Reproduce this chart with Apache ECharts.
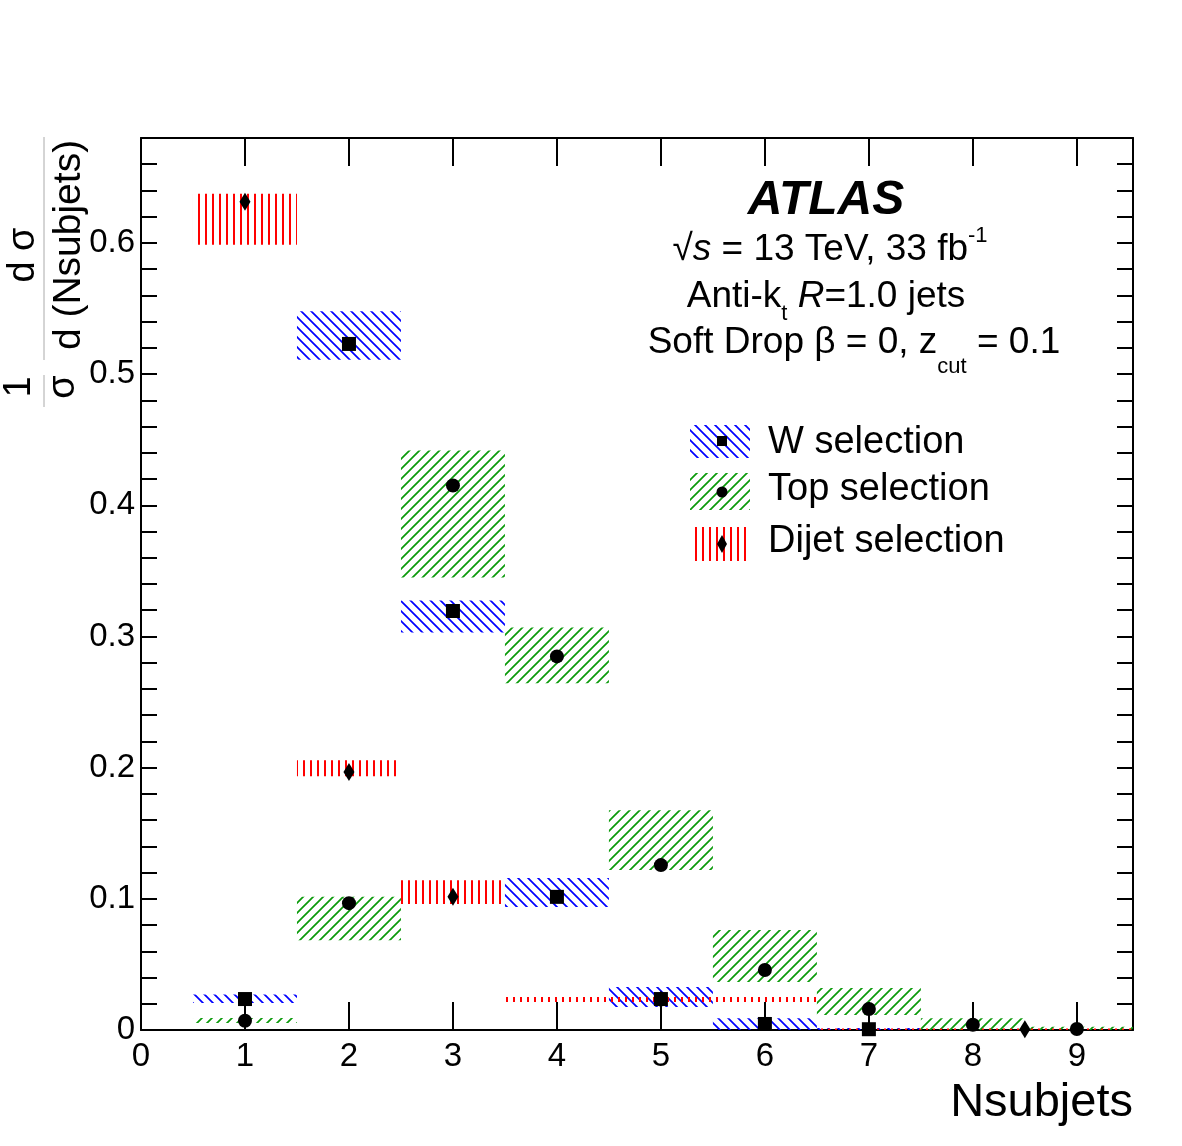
<!DOCTYPE html>
<html>
<head>
<meta charset="utf-8">
<script src="https://cdn.jsdelivr.net/npm/echarts@6/dist/echarts.min.js"></script>
<style>
  * { margin: 0; padding: 0; }
  body { background: #fff; }
</style>
</head>
<body>
<div id="nsub" style="width: 1182px;height: 1146px;"></div>
<script>
// W selection
var wCenter = [1, 2, 3, 4, 5, 6, 7];
var wValue  = [0.0236, 0.523, 0.3194, 0.1015, 0.0236, 0.0046, 0.0006];
var wLow    = [0.0205, 0.511, 0.3031, 0.0937, 0.0175, 0.0, 0.0];
var wHigh   = [0.027, 0.548, 0.3275, 0.1158, 0.0327, 0.009, 0.0015];
var wBinLo  = [0.5, 1.5, 2.5, 3.5, 4.5, 5.5, 6.5];
var wBinHi  = [1.5, 2.5, 3.5, 4.5, 5.5, 6.5, 7.5];

// Top selection
var topCenter = [1, 2, 3, 4, 5, 6, 7, 8, 9];
var topValue  = [0.0071, 0.0967, 0.4151, 0.2848, 0.1257, 0.0457, 0.016, 0.004, 0.0008];
var topLow    = [0.0053, 0.0685, 0.345, 0.2643, 0.1219, 0.0366, 0.0114, 0.0, 0.0];
var topHigh   = [0.0091, 0.1015, 0.4417, 0.3069, 0.1676, 0.0762, 0.032, 0.009, 0.0025];
var topBinLo  = [0.5, 1.5, 2.5, 3.5, 4.5, 5.5, 6.5, 7.5, 8.5];
var topBinHi  = [1.5, 2.5, 3.5, 4.5, 5.5, 6.5, 7.5, 8.5, 10.5];

// Dijet selection
var djCenter = [1, 2, 3, 5, 8.5];
var djValue  = [0.6314, 0.1967, 0.1015, 0.0232, 0.0005];
var djLow    = [0.5986, 0.1934, 0.096, 0.0213, 0.0];
var djHigh   = [0.6375, 0.2056, 0.1142, 0.0251, 0.0012];
var djBinLo  = [0.5, 1.5, 2.5, 3.5, 6.5];
var djBinHi  = [1.5, 2.5, 3.5, 6.5, 10.5];

var xTickLabels = ['0', '1', '2', '3', '4', '5', '6', '7', '8', '9'];
var yTickLabels = ['0', '0.1', '0.2', '0.3', '0.4', '0.5', '0.6'];

var FONT = '"Liberation Sans", Arial, Helvetica, sans-serif';
var BLUE = '#0000ff', GREEN = '#0a9a0a', RED = '#ff0000';

// ROOT like fill patterns
function hatch(color, kind) {
  var c = document.createElement('canvas');
  var s = kind === 'vert' ? 7 : 10;
  c.width = s; c.height = s;
  var g = c.getContext('2d');
  g.strokeStyle = color;
  g.lineWidth = kind === 'vert' ? 2 : 1.7;
  g.beginPath();
  if (kind === 'vert') {
    g.moveTo(3, 0); g.lineTo(3, s);
  } else if (kind === 'back') {   // "\\\"
    g.moveTo(-2, -2); g.lineTo(s + 2, s + 2);
    g.moveTo(-2, s - 2); g.lineTo(2, s + 2);
    g.moveTo(s - 2, -2); g.lineTo(s + 2, 2);
  } else {                        // "///"
    g.moveTo(-2, s + 2); g.lineTo(s + 2, -2);
    g.moveTo(-2, 2); g.lineTo(2, -2);
    g.moveTo(s - 2, s + 2); g.lineTo(s + 2, s - 2);
  }
  g.stroke();
  return {image: c, repeat: 'repeat'};
}
var patW = hatch(BLUE, 'back');
var patTop = hatch(GREEN, 'fwd');
var patDj = hatch(RED, 'vert');

function bandData(lo, hi, ylo, yhi) {
  return lo.map(function (v, i) { return [v, hi[i], ylo[i], yhi[i]]; });
}
function pointData(x, y) {
  return x.map(function (v, i) { return [v, y[i]]; });
}
function bandSeries(name, data, pat) {
  return {
    name: name,
    type: 'custom',
    clip: true,
    silent: true,
    encode: {x: [0, 1], y: [2, 3]},
    data: data,
    renderItem: function (params, api) {
      var p0 = api.coord([api.value(0), api.value(3)]);
      var p1 = api.coord([api.value(1), api.value(2)]);
      return {
        type: 'rect',
        shape: {x: p0[0], y: p0[1], width: p1[0] - p0[0], height: Math.max(p1[1] - p0[1], 1)},
        style: {fill: pat}
      };
    }
  };
}
function markerSeries(name, data, symbol, size) {
  return {
    name: name,
    type: 'scatter',
    symbol: symbol,
    symbolSize: size,
    itemStyle: {color: '#000', opacity: 1},
    silent: true,
    data: data,
    z: 5
  };
}

function xFmt(v) {
  var r = Math.round(v);
  return Math.abs(v - r) < 1e-6 && xTickLabels[r] !== undefined ? xTickLabels[r] : '';
}
function yFmt(v) {
  var r = Math.round(v * 10);
  return Math.abs(v * 10 - r) < 1e-6 && yTickLabels[r] !== undefined ? yTickLabels[r] : '';
}

var axLine = {show: true, onZero: false, lineStyle: {color: '#000', width: 2}};
function xAx(pos, label) {
  return {
    type: 'value', min: 0, max: 9.54, interval: 1, position: pos,
    axisLine: axLine,
    axisTick: {show: true, inside: true, length: 28, lineStyle: {color: '#000', width: 2}},
    axisLabel: {show: label, color: '#000', fontSize: 33, fontFamily: FONT, margin: 10,
      formatter: xFmt, showMaxLabel: false},
    splitLine: {show: false}
  };
}
function yAx(pos, label) {
  return {
    type: 'value', min: 0, max: 0.68, interval: 0.02, position: pos,
    axisLine: axLine,
    axisTick: {show: true, inside: true, length: 16, lineStyle: {color: '#000', width: 2}},
    axisLabel: {show: label, color: '#000', fontSize: 33, fontFamily: FONT, margin: 6,
      formatter: yFmt, showMaxLabel: false},
    splitLine: {show: false}
  };
}

var txt = function (x, y, text, font, extra, rot) {
  var st = {text: text, x: 0, y: 0, font: font, fill: '#000', textAlign: 'center', textVerticalAlign: 'middle'};
  if (extra) for (var k in extra) st[k] = extra[k];
  return {type: 'text', x: x, y: y, rotation: rot || 0, style: st, z: 10};
};
var UP = Math.PI / 2;

var chart = echarts.init(document.getElementById('nsub'));
chart.setOption({
  backgroundColor: '#fff',
  animation: false,
  grid: {left: 141, top: 138, right: 49, bottom: 116},
  xAxis: [xAx('bottom', true), xAx('top', false)],
  yAxis: [yAx('left', true), yAx('right', false)],
  series: [
    bandSeries('W band', bandData(wBinLo, wBinHi, wLow, wHigh), patW),
    bandSeries('Top band', bandData(topBinLo, topBinHi, topLow, topHigh), patTop),
    bandSeries('Dijet band', bandData(djBinLo, djBinHi, djLow, djHigh), patDj),
    markerSeries('Dijet selection', pointData(djCenter, djValue), 'diamond', [11, 18]),
    markerSeries('Top selection', pointData(topCenter, topValue), 'circle', 14),
    markerSeries('W selection', pointData(wCenter, wValue), 'rect', 14)
  ],
  graphic: [
    // y title
    txt(24, 255, 'd σ', '38px ' + FONT, {}, UP),
    txt(69, 245, 'd (Nsubjets)', '39px ' + FONT, {}, UP),
    txt(20, 387, '1', '38px ' + FONT, {}, UP),
    txt(64, 387, 'σ', '38px ' + FONT, {}, UP),
    {type: 'line', shape: {x1: 44, y1: 137, x2: 44, y2: 360}, style: {stroke: '#aaa', lineWidth: 1}},
    {type: 'line', shape: {x1: 44, y1: 375, x2: 44, y2: 407}, style: {stroke: '#aaa', lineWidth: 1}},
    // x title
    txt(1133, 1103, 'Nsubjets', '47px ' + FONT, {textAlign: 'right'}),
    // labels
    txt(826, 201, 'ATLAS', 'italic bold 48px ' + FONT, {}),
    txt(830, 250, '{n|√}{i|s}{n| = 13 TeV, 33 fb}{sup|-1}', '37px ' + FONT, {
      rich: {
        n: {fontSize: 37, fontFamily: FONT, lineHeight: 50},
        i: {fontSize: 37, fontFamily: FONT, fontStyle: 'italic', lineHeight: 50},
        sup: {fontSize: 22, fontFamily: FONT, lineHeight: 28, verticalAlign: 'top'}
      }
    }),
    txt(826, 297, '{n|Anti-k}{sub|t}{n| }{i|R}{n|=1.0 jets}', '37px ' + FONT, {
      rich: {
        n: {fontSize: 37, fontFamily: FONT, lineHeight: 56},
        i: {fontSize: 37, fontFamily: FONT, fontStyle: 'italic', lineHeight: 56},
        sub: {fontSize: 22, fontFamily: FONT, lineHeight: 32, verticalAlign: 'bottom'}
      }
    }),
    txt(854, 343, '{n|Soft Drop β = 0, z}{sub|cut}{n| = 0.1}', '37px ' + FONT, {
      rich: {
        n: {fontSize: 37, fontFamily: FONT, lineHeight: 70},
        sub: {fontSize: 22, fontFamily: FONT, lineHeight: 28, verticalAlign: 'bottom'}
      }
    }),
    // legend
    {type: 'rect', shape: {x: 690, y: 425, width: 60, height: 33}, style: {fill: patW}},
    {type: 'rect', shape: {x: 717, y: 436, width: 10, height: 10}, style: {fill: '#000'}, z: 5},
    txt(768, 443, 'W selection', '38px ' + FONT, {textAlign: 'left'}),
    {type: 'rect', shape: {x: 690, y: 473, width: 60, height: 37}, style: {fill: patTop}},
    {type: 'circle', shape: {cx: 722, cy: 492, r: 5.5}, style: {fill: '#000'}, z: 5},
    txt(768, 490, 'Top selection', '38px ' + FONT, {textAlign: 'left'}),
    {type: 'rect', shape: {x: 692, y: 527, width: 55, height: 34}, style: {fill: patDj}},
    {type: 'polygon', shape: {points: [[722, 535], [727, 544], [722, 553], [717, 544]]}, style: {fill: '#000'}, z: 5},
    txt(768, 542, 'Dijet selection', '38px ' + FONT, {textAlign: 'left'})
  ]
});
</script>
</body>
</html>
